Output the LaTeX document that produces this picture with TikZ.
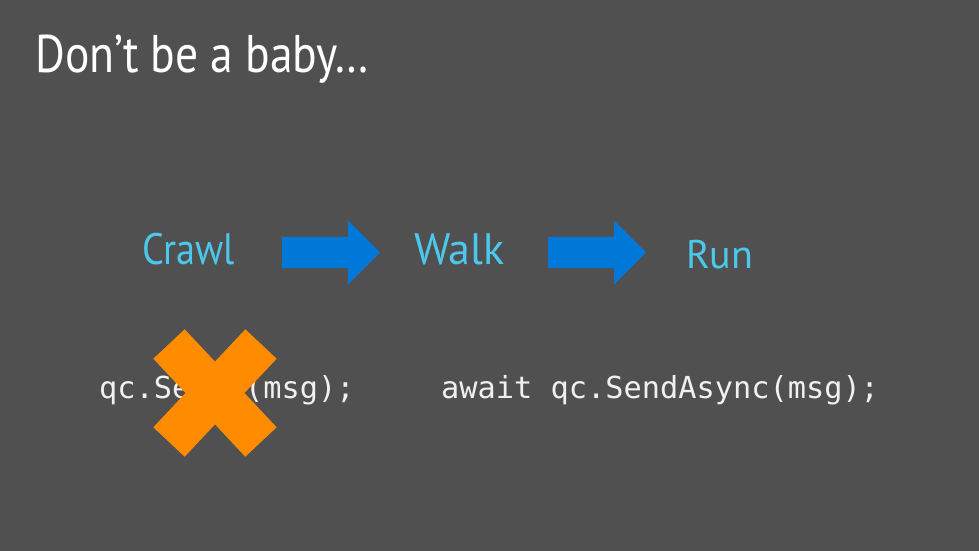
\documentclass[tikz,border=0pt]{standalone}
\usepackage{fontspec}
\setmainfont{PT Sans}
\setmonofont{DejaVu Sans Mono}
\usetikzlibrary{shapes.arrows}

\definecolor{slidebg}{HTML}{505050}
\definecolor{steplabel}{HTML}{4BC8EB}
\definecolor{arrowblue}{HTML}{0078D7}
\definecolor{crossorange}{HTML}{FF8C00}

\begin{document}
\begin{tikzpicture}[x=1pt,y=-1pt,
	title/.style={anchor=base west,inner sep=0,text=white,font=\fontsize{53}{60}\selectfont},
	stage/.style={anchor=base west,inner sep=0,text=steplabel,font=\fontsize{44}{50}\selectfont},
	code/.style={anchor=base west,inner sep=0,text=white!94!black,font=\ttfamily\fontsize{30.3}{36}\selectfont},
	blockarrow/.style={single arrow,fill=arrowblue,draw=none,inner sep=0,
		text height=31pt,text depth=0pt,minimum height=98pt,
		single arrow head extend=16.5pt,anchor=west}]
	\fill[slidebg] (0,0) rectangle (979,551);
	\useasboundingbox (0,0) rectangle (979,551);
	\node[title] (head) at (35,72) {\scalebox{0.86}[1]{Don’t be a baby…}};
	\node[stage] (crawl) at (142,264) {\scalebox{0.87}[1]{Crawl}};
	\node[stage] (walk) at (414,264) {Walk};
	\node[stage,font=\fontsize{40}{46}\selectfont] (run) at (686,268) {Run};
	\node[blockarrow] (a1) at (282,252.5) {};
	\node[blockarrow] (a2) at (548,252.5) {};
	\node[code] (sync) at (99,398) {qc.Send\ (msg);};
	\node[code] (async) at (441,398) {await qc.SendAsync(msg);};
	% the cross over the blocking call
	\coordinate (x) at (215,393);
	\draw[crossorange,line width=43pt] ([shift={(-46,-49)}]x) -- ([shift={(46,49)}]x);
	\draw[crossorange,line width=43pt] ([shift={(46,-49)}]x) -- ([shift={(-46,49)}]x);
\end{tikzpicture}
\end{document}
